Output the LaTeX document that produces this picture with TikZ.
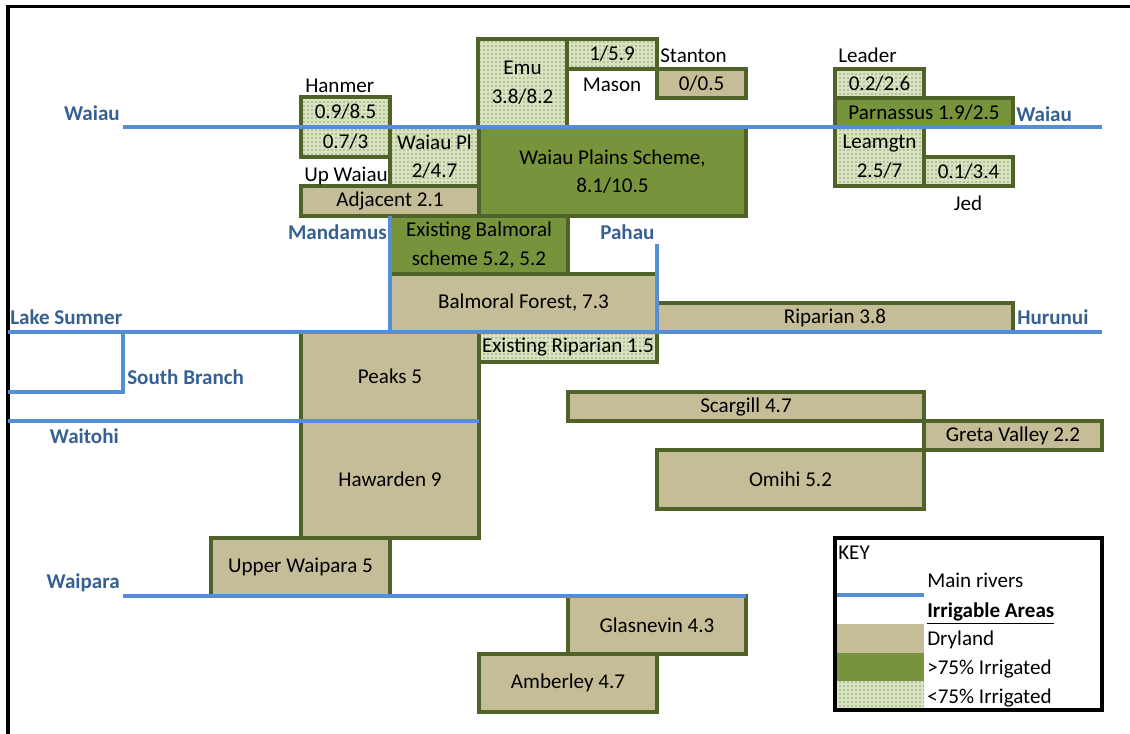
\documentclass[tikz,border=0pt]{standalone}
\usepackage{fontspec}
\setmainfont{Carlito}
\usetikzlibrary{patterns}
\definecolor{tanfill}{HTML}{C4BD97}
\definecolor{olivefill}{HTML}{77933C}
\definecolor{edgecol}{HTML}{4F6228}
\definecolor{palefill}{HTML}{D7E4BD}
\definecolor{rivercol}{HTML}{558ED5}
\definecolor{rlabel}{HTML}{376092}
\newcommand\cellbox[7]{\node[#6, minimum width={(#4-#2)*0.75pt}, minimum height={(#5-#3)*0.75pt}] (#1) at (#2,#3) {#7};}
\begin{document}
\begin{tikzpicture}[x=0.75pt,y=-0.75pt,
  font=\fontsize{15.8}{21.5}\selectfont,
  cellbase/.style={draw=edgecol, line width=2.6pt, inner sep=0pt, outer sep=0pt, align=center, anchor=north west},
  dry/.style={cellbase, fill=tanfill},
  wet/.style={cellbase, fill=olivefill},
  part/.style={cellbase, preaction={fill=palefill}, pattern=dots, pattern color=black!75},
  lab/.style={inner sep=0pt, text height=12pt, text depth=1.7pt},
  rlab/.style={lab, text=rlabel, font=\fontsize{15.8}{18}\selectfont\bfseries},
  river/.style={draw=rivercol, line width=3pt}
]
\useasboundingbox (0,0) rectangle (1130,734);
% frame
\draw[line width=2.3pt] (8,734) -- (8,6.5) -- (1130,6.5);
% cells
\cellbox{emu}{478}{39}{567}{127}{part}{Emu\\3.8/8.2}
\cellbox{stan}{567}{39}{657}{69}{part}{1/5.9}
\cellbox{mas}{657}{69}{746}{98}{dry}{0/0.5}
\cellbox{hana}{301}{97}{390}{127}{part}{0.9/8.5}
\cellbox{hanb}{301}{127}{390}{157}{part}{0.7/3}
\cellbox{wpl}{390}{127}{479}{186}{part}{Waiau Pl\\2/4.7}
\cellbox{wps}{479}{127}{746}{216}{wet}{Waiau Plains Scheme,\\8.1/10.5}
\cellbox{adj}{301}{186}{479}{216}{dry}{Adjacent 2.1}
\cellbox{ebal}{390}{216}{568}{274}{wet}{Existing Balmoral\\scheme 5.2, 5.2}
\cellbox{bfor}{390}{274}{657}{332}{dry}{Balmoral Forest, 7.3}
\cellbox{rip}{657}{303}{1013}{332}{dry}{Riparian 3.8}
\cellbox{erip}{479}{332}{657}{362}{part}{Existing Riparian 1.5}
\cellbox{peaks}{301}{332}{479}{421}{dry}{Peaks 5}
\cellbox{haw}{301}{421}{479}{538}{dry}{Hawarden 9}
\cellbox{upw}{211}{538}{390}{596}{dry}{Upper Waipara 5}
\cellbox{glas}{568}{596}{746}{654}{dry}{Glasnevin 4.3}
\cellbox{amb}{479}{654}{657}{712}{dry}{Amberley 4.7}
\cellbox{scar}{568}{392}{924}{421}{dry}{Scargill 4.7}
\cellbox{greta}{924}{421}{1102}{450}{dry}{Greta Valley 2.2}
\cellbox{omihi}{657}{450}{924}{509}{dry}{Omihi 5.2}
\cellbox{lead}{835}{69}{924}{98}{part}{0.2/2.6}
\cellbox{parn}{835}{98}{1013}{127}{wet}{Parnassus 1.9/2.5}
\cellbox{leam}{835}{127}{924}{186}{part}{Leamgtn\\2.5/7}
\cellbox{jed}{924}{157}{1013}{186}{part}{0.1/3.4}
% plain labels
\node[lab, anchor=west] (lhanmer) at (305,86) {Hanmer};
\node[lab, anchor=west] (lupw) at (304,175) {Up Waiau};
\node[lab, anchor=west] (lstanton) at (660,56) {Stanton};
\node[lab] (lmason) at (612,85) {Mason};
\node[lab, anchor=west] (lleader) at (838,56) {Leader};
\node[lab] (ljed) at (968,204) {Jed};
% rivers
\coordinate (waiauA) at (123,127); \coordinate (waiauB) at (1102,127);
\coordinate (lsA) at (8,332); \coordinate (lsB) at (1102,332);
\coordinate (sbA) at (123,332); \coordinate (sbB) at (123,392); \coordinate (sbC) at (8,392);
\coordinate (wtA) at (8,421); \coordinate (wtB) at (479,421);
\coordinate (wpA) at (123,596); \coordinate (wpB) at (746,596);
\coordinate (mdA) at (390,216); \coordinate (mdB) at (390,334);
\coordinate (phA) at (657,244); \coordinate (phB) at (657,332);
\draw[river] (waiauA) -- (waiauB);
\draw[river] (lsA) -- (lsB);
\draw[river] (sbA) -- (sbB) -- (sbC);
\draw[river] (wtA) -- (wtB);
\draw[river] (wpA) -- (wpB);
\draw[river] (mdA) -- (mdB);
\draw[river] (phA) -- (phB);
% river labels
\node[rlab, anchor=east] (rwaiauL) at (120,114) {Waiau};
\node[rlab, anchor=west] (rwaiauR) at (1016,115) {Waiau};
\node[rlab, anchor=east] (rmand) at (387,233) {Mandamus};
\node[rlab, anchor=west] (rpahau) at (600,233) {Pahau};
\node[rlab, anchor=west] (rlake) at (10,318) {Lake Sumner};
\node[rlab, anchor=west] (rsouth) at (127,378) {South Branch};
\node[rlab, anchor=east] (rwaitohi) at (119,437) {Waitohi};
\node[rlab, anchor=west] (rhuru) at (1017,318) {Hurunui};
\node[rlab, anchor=east] (rwaipara) at (120,582) {Waipara};
% key
\fill[tanfill] (835,624) rectangle (924,653);
\fill[olivefill] (835,653) rectangle (924,681);
\fill[palefill] (835,681) rectangle (924,710);
\fill[pattern=dots, pattern color=black!75] (835,681) rectangle (924,710);
\coordinate (keyA) at (835,595); \coordinate (keyB) at (924,595);
\draw[river] (keyA) -- (keyB);
\node[draw=black, line width=2.8pt, inner sep=0pt, outer sep=0pt, anchor=north west, minimum width={267*0.75pt}, minimum height={172*0.75pt}] (key) at (835,538) {};
\node[lab, anchor=west] (kkey) at (838,553) {KEY};
\node[lab, anchor=west] (kmain) at (927,581) {Main rivers};
\node[lab, anchor=west] (kirr) at (927,611) {\underline{\textbf{Irrigable Areas}}};
\node[lab, anchor=west] (kdry) at (927,639) {Dryland};
\node[lab, anchor=west] (kgt) at (927,668) {>75\% Irrigated};
\node[lab, anchor=west] (klt) at (927,697) {<75\% Irrigated};
\end{tikzpicture}
\end{document}
